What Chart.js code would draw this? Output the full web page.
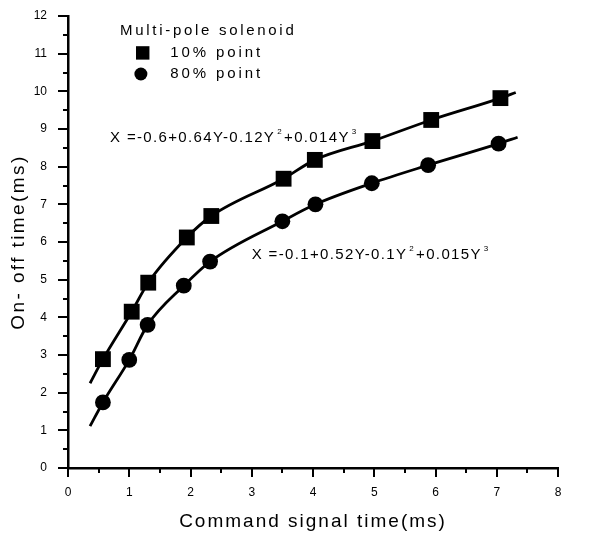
<!DOCTYPE html>
<html>
<head>
<meta charset="utf-8">
<script src="https://cdn.jsdelivr.net/npm/chart.js@4.4.1/dist/chart.umd.min.js"></script>
<style>
html,body{margin:0;padding:0;background:#fff;}
#wrap{width:596px;height:538px;position:relative;}
</style>
</head>
<body>
<div id="wrap"><canvas id="c" width="596" height="538"></canvas></div>
<script>
// ---- data ----
const xTickValues = [0, 1, 2, 3, 4, 5, 6, 7, 8];
const yTickValues = [0, 1, 2, 3, 4, 5, 6, 7, 8, 9, 10, 11, 12];

// 10% point (squares)
const cmd10 = [0.57, 1.04, 1.31, 1.94, 2.34, 3.52, 4.03, 4.97, 5.93, 7.06];
const on10  = [2.89, 4.15, 4.92, 6.12, 6.69, 7.68, 8.18, 8.68, 9.24, 9.82];
// 80% point (circles)
const cmd80 = [0.57, 1.00, 1.30, 1.89, 2.32, 3.50, 4.04, 4.96, 5.88, 7.03];
const on80  = [1.74, 2.87, 3.80, 4.84, 5.48, 6.55, 7.00, 7.56, 8.04, 8.61];

// fitted curves: visible start / end of each drawn curve
const fit10Ends = [[0.36, 2.25], [7.31, 9.97]];
const fit80Ends = [[0.36, 1.11], [7.34, 8.78]];

const legendTitle = 'Multi-pole solenoid';
const seriesNames = ['10% point', '80% point'];
const eq10Parts = ['X =-0.6+0.64Y-0.12Y', '2', '+0.014Y', '3'];
const eq80Parts = ['X =-0.1+0.52Y-0.1Y', '2', '+0.015Y', '3'];
const xTitle = 'Command signal time(ms)';
const yTitle = 'On- off time(ms)';

// ---- build datasets ----
const toPts = (xs, ys) => xs.map((x, i) => ({x: x, y: ys[i]}));
const pts10 = toPts(cmd10, on10);
const pts80 = toPts(cmd80, on80);
const curve10 = [{x: fit10Ends[0][0], y: fit10Ends[0][1]}, ...pts10, {x: fit10Ends[1][0], y: fit10Ends[1][1]}];
const curve80 = [{x: fit80Ends[0][0], y: fit80Ends[0][1]}, ...pts80, {x: fit80Ends[1][0], y: fit80Ends[1][1]}];

const FONT = '"Liberation Sans", Arial, Helvetica, sans-serif';
const INK = '#000';

const decorPlugin = {
  id: 'decor',
  afterLayout(chart) {
    Object.values(chart.scales).forEach(s => {
      if (s._wrapped) return;
      const orig = s.drawTitle;
      const ls = s.axis === 'x' ? '2px' : '2.4px';
      s.drawTitle = function() {
        const ctx = this.ctx;
        ctx.save();
        ctx.letterSpacing = ls;
        orig.call(this);
        ctx.restore();
      };
      s._wrapped = true;
    });
  },
  afterDraw(chart) {
    const ctx = chart.ctx;
    const xs = chart.scales.x, ys = chart.scales.y;
    ctx.save();
    ctx.strokeStyle = INK;
    ctx.lineWidth = 2;
    ctx.lineCap = 'butt';
    // major + minor tick marks (outward)
    for (let v = xs.min; v <= xs.max + 1e-9; v += 0.5) {
      const p = Math.round(xs.getPixelForValue(v));
      const L = Math.abs(v - Math.round(v)) < 1e-9 ? 9 : 5;
      ctx.beginPath(); ctx.moveTo(p, ys.bottom); ctx.lineTo(p, ys.bottom + L); ctx.stroke();
    }
    for (let v = ys.min; v <= ys.max + 1e-9; v += 0.5) {
      const p = Math.round(ys.getPixelForValue(v));
      const L = Math.abs(v - Math.round(v)) < 1e-9 ? 10 : 5;
      ctx.beginPath(); ctx.moveTo(xs.left, p); ctx.lineTo(xs.left - L, p); ctx.stroke();
    }

    // legend
    const X = v => xs.getPixelForValue(v), Y = v => ys.getPixelForValue(v);
    ctx.fillStyle = INK;
    ctx.textBaseline = 'middle';
    ctx.textAlign = 'left';
    ctx.font = '15px ' + FONT;
    ctx.letterSpacing = '2.7px';
    ctx.fillText(legendTitle, X(0.85), Y(11.6));
    ctx.letterSpacing = '2.9px';
    Chart.helpers.drawPoint(ctx, {pointStyle: 'rect', radius: 9.5, rotation: 0, borderWidth: 0}, X(1.22), Y(11.02));
    ctx.fillText(seriesNames[0], X(1.67), Y(11.02));
    Chart.helpers.drawPoint(ctx, {pointStyle: 'circle', radius: 6.5, rotation: 0, borderWidth: 0}, X(1.19), Y(10.46));
    ctx.fillText(seriesNames[1], X(1.67), Y(10.46));

    // equations
    function drawEq(parts, xv, yv) {
      let x = X(xv); const y = Y(yv);
      ctx.letterSpacing = '1.35px';
      for (let i = 0; i < parts.length; i++) {
        const sup = i % 2 === 1;
        ctx.font = (sup ? '8px ' : '15px ') + FONT;
        if (sup) x += 2;
        ctx.fillText(parts[i], x, sup ? y - 6 : y);
        x += ctx.measureText(parts[i]).width + (sup ? 1 : 0);
      }
    }
    drawEq(eq10Parts, 0.686, 8.76);
    drawEq(eq80Parts, 3.0, 5.65);
    ctx.restore();
  }
};

new Chart(document.getElementById('c'), {
  type: 'scatter',
  data: {
    datasets: [
      {type: 'line', label: 'fit 10%', data: curve10, borderColor: INK, borderWidth: 2.8,
       pointRadius: 0, fill: false, cubicInterpolationMode: 'monotone'},
      {type: 'line', label: 'fit 80%', data: curve80, borderColor: INK, borderWidth: 2.8,
       pointRadius: 0, fill: false, cubicInterpolationMode: 'monotone'},
      {label: seriesNames[0], data: pts10, pointStyle: 'rect', pointRadius: 11.2,
       backgroundColor: INK, borderColor: INK, borderWidth: 0, showLine: false},
      {label: seriesNames[1], data: pts80, pointStyle: 'circle', pointRadius: 7.9,
       backgroundColor: INK, borderColor: INK, borderWidth: 0, showLine: false}
    ]
  },
  options: {
    responsive: false,
    animation: false,
    devicePixelRatio: 1,
    layout: {padding: {top: 16, right: 38, left: 0, bottom: 0}},
    plugins: {legend: {display: false}, tooltip: {enabled: false}},
    scales: {
      x: {
        type: 'linear', min: 0, max: 8,
        afterFit: s => { s.height = 70; },
        afterBuildTicks: s => { s.ticks = xTickValues.map(v => ({value: v})); },
        grid: {display: true, drawOnChartArea: false, drawTicks: true, tickLength: 13,
               tickColor: 'rgba(0,0,0,0)', color: 'rgba(0,0,0,0)'},
        border: {display: true, color: INK, width: 2.5},
        ticks: {color: INK, padding: 4, font: {family: FONT, size: 12}, maxRotation: 0},
        title: {display: true, text: xTitle, color: INK, font: {family: FONT, size: 19},
                padding: {top: 0, bottom: 5}}
      },
      y: {
        type: 'linear', min: 0, max: 12,
        afterFit: s => { s.width = 68; },
        afterBuildTicks: s => { s.ticks = yTickValues.map(v => ({value: v})); },
        grid: {display: true, drawOnChartArea: false, drawTicks: true, tickLength: 13,
               tickColor: 'rgba(0,0,0,0)', color: 'rgba(0,0,0,0)'},
        border: {display: true, color: INK, width: 2.5},
        ticks: {color: INK, padding: 8, font: {family: FONT, size: 12}},
        title: {display: true, text: yTitle, color: INK, font: {family: FONT, size: 19},
                padding: {top: 7, bottom: 0}}
      }
    }
  },
  plugins: [decorPlugin]
});
</script>
</body>
</html>
